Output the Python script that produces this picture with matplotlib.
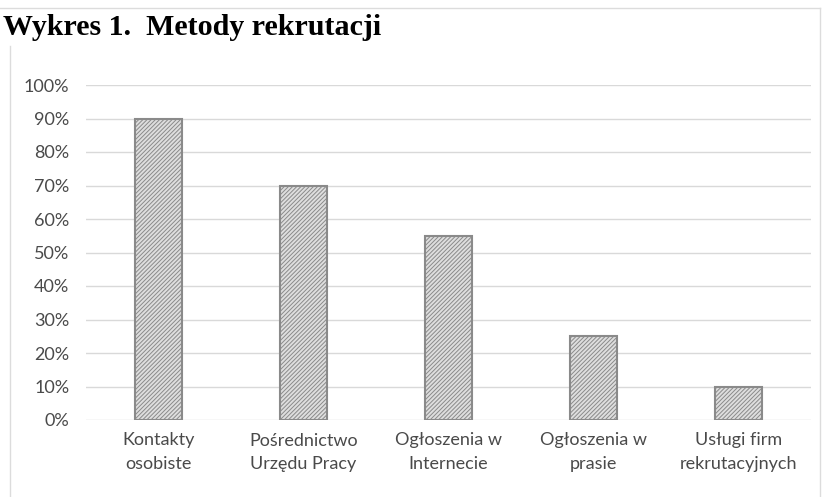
import matplotlib
matplotlib.use("Agg")
import matplotlib.pyplot as plt
from matplotlib.lines import Line2D
from matplotlib.ticker import FixedLocator, PercentFormatter

categories = ["Kontakty\nosobiste", "Pośrednictwo\nUrzędu Pracy", "Ogłoszenia w\nInternecie",
              "Ogłoszenia w\nprasie", "Usługi firm\nrekrutacyjnych"]
values = [90, 70, 55, 25, 10]
y_ticks = [0, 10, 20, 30, 40, 50, 60, 70, 80, 90, 100]

W, H = 832, 497
fig = plt.figure(figsize=(W / 100, H / 100), dpi=100)
fig.patch.set_facecolor("white")

# chart frame: top, right and left edges (left edge starts below the heading)
frame_kw = dict(transform=fig.transFigure, color="#dcdcdc", lw=1.0)
fig.add_artist(Line2D([0, 820 / W], [1 - 8 / H, 1 - 8 / H], **frame_kw))
fig.add_artist(Line2D([820 / W, 820 / W], [1 - 8 / H, 0], **frame_kw))
fig.add_artist(Line2D([10 / W, 10 / W], [1 - 46 / H, 0], **frame_kw))

left, right = 86, 811
top, bottom = 85, 420
ax = fig.add_axes([left / W, 1 - bottom / H, (right - left) / W, (bottom - top) / H])

plt.rcParams["hatch.linewidth"] = 0.7
plt.rcParams["hatch.color"] = "#a8a8a8"
x = range(len(categories))
ax.bar(x, values, width=0.325, color="#dedede", edgecolor="#8a8a8a", linewidth=1.5,
       hatch="////////", zorder=3)

ax.set_xlim(-0.5, len(categories) - 0.5)
ax.set_ylim(0, 100)
ax.yaxis.set_major_locator(FixedLocator(y_ticks))
ax.yaxis.set_major_formatter(PercentFormatter(decimals=0))
ax.grid(axis="y", color="#d9d9d9", lw=1.0, zorder=0)
for s in ax.spines.values():
    s.set_visible(False)
ax.tick_params(axis="both", length=0, colors="#4a4a4a", labelsize=13)
ax.tick_params(axis="y", pad=12)
ax.tick_params(axis="x", pad=9)
ax.set_xticks(list(x))
ax.set_xticklabels(categories, fontfamily="Lato", linespacing=1.55)
for lab in ax.get_yticklabels():
    lab.set_fontfamily("Lato")

fig.text(3 / W, 1 - 35 / H, "Wykres 1.  Metody rekrutacji", fontfamily="Liberation Serif",
         fontweight="bold", fontsize=21.6, color="black")

fig.savefig("out.png", dpi=100, facecolor="white")
